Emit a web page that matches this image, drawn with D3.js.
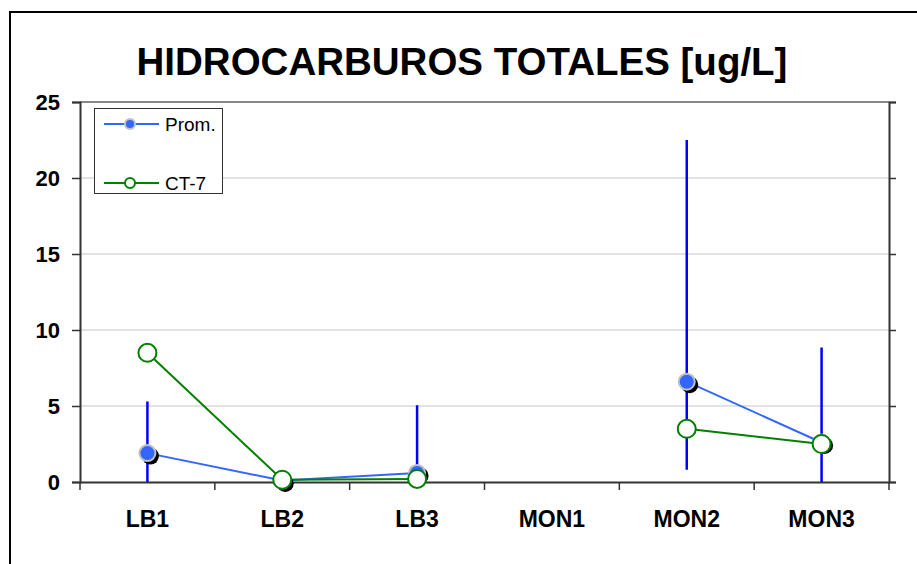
<!DOCTYPE html>
<html>
<head>
<meta charset="utf-8">
<script src="https://cdn.jsdelivr.net/npm/d3@7"></script>
<style>
  body { margin: 0; background: #fff; }
  text { font-family: Arial, "Liberation Sans", sans-serif; }
</style>
</head>
<body>
<div id="chart-container"></div>
<script>
const svgWidth = 917,
    svgHeight = 564,
    margin = { top: 102, right: 28, bottom: 82, left: 80 },
    width = svgWidth - margin.left - margin.right,
    height = svgHeight - margin.top - margin.bottom;

// data
const categories = ["LB1", "LB2", "LB3", "MON1", "MON2", "MON3"];
const promValues = [1.9, 0.1, 0.6, null, 6.6, 2.6];
const promLow = [0, 0, 0, null, 0.8, 0];
const promHigh = [5.3, 0.1, 5.05, null, 22.5, 8.85];
const ct7Values = [8.5, 0.15, 0.2, null, 3.5, 2.5];
const yTicks = [0, 5, 10, 15, 20, 25];

var root = d3.select("#chart-container").append("svg")
    .attr("width", svgWidth)
    .attr("height", svgHeight);

// outer frame
root.append("rect")
    .attr("x", 10).attr("y", 12)
    .attr("width", 920).attr("height", 570)
    .attr("fill", "none")
    .attr("stroke", "#000")
    .attr("stroke-width", 2);

root.append("text")
    .attr("x", 462)
    .attr("y", 75)
    .attr("text-anchor", "middle")
    .attr("font-size", 38.5)
    .attr("font-weight", "bold")
    .text("HIDROCARBUROS TOTALES [ug/L]");

var svg = root.append("g")
    .attr("transform", "translate(" + margin.left + "," + margin.top + ")");

let xScale = d3.scaleBand()
        .domain(categories)
        .range([0, width]),
    yScale = d3.scaleLinear()
        .domain([0, 25])
        .range([height, 0]);

const cx = (i) => xScale(categories[i]) + xScale.bandwidth() / 2;

// gridlines
svg.selectAll("line.grid")
    .data(yTicks.filter((d) => d > 0 && d < 25))
    .join("line")
    .attr("class", "grid")
    .attr("x1", 0).attr("x2", width)
    .attr("y1", (d) => yScale(d)).attr("y2", (d) => yScale(d))
    .attr("stroke", "#d9d9d9")
    .attr("stroke-width", 1.5);

// plot frame top
svg.append("line")
    .attr("x1", 0).attr("x2", width)
    .attr("y1", 0).attr("y2", 0)
    .attr("stroke", "#888").attr("stroke-width", 2);

// left axis
let yAxis = svg.append("g")
    .call(d3.axisLeft(yScale).tickValues(yTicks).tickSize(8).tickPadding(12));
yAxis.selectAll("text")
    .attr("font-size", 22).attr("font-weight", "bold").attr("fill", "#000");

// right axis
let yAxisR = svg.append("g")
    .attr("transform", "translate(" + width + ",0)")
    .call(d3.axisRight(yScale).tickValues(yTicks).tickSize(7).tickFormat(""));

// bottom axis
let xAxis = svg.append("g")
    .attr("transform", "translate(0," + height + ")")
    .call(d3.axisBottom(xScale).tickSize(0).tickPadding(29));
xAxis.selectAll("text")
    .attr("font-size", 23).attr("font-weight", "bold").attr("fill", "#000");
xAxis.selectAll("line.edge")
    .data(d3.range(categories.length + 1))
    .join("line")
    .attr("class", "edge")
    .attr("x1", (i) => i * xScale.bandwidth())
    .attr("x2", (i) => i * xScale.bandwidth())
    .attr("y1", 0).attr("y2", 8)
    .attr("stroke", "#333").attr("stroke-width", 1.5);

[yAxis, yAxisR, xAxis].forEach((a) => {
    a.select(".domain").attr("stroke", "#333").attr("stroke-width", 2);
    a.selectAll(".tick line").attr("stroke", "#333").attr("stroke-width", 1.5);
});

// error bars
svg.selectAll("line.err")
    .data(categories.map((c, i) => i).filter((i) => promValues[i] != null))
    .join("line")
    .attr("class", "err")
    .attr("x1", cx).attr("x2", cx)
    .attr("y1", (i) => yScale(promLow[i]))
    .attr("y2", (i) => yScale(promHigh[i]))
    .attr("stroke", "#0000ff")
    .attr("stroke-width", 2.5);

let line = d3.line()
    .defined((d) => d.v != null)
    .x((d) => cx(d.i))
    .y((d) => yScale(d.v));

const promPts = promValues.map((v, i) => ({ i: i, v: v }));
const ctPts = ct7Values.map((v, i) => ({ i: i, v: v }));

svg.append("path")
    .datum(promPts)
    .attr("d", line)
    .attr("fill", "none")
    .attr("stroke", "#3366ff")
    .attr("stroke-width", 2);

svg.append("path")
    .datum(ctPts)
    .attr("d", line)
    .attr("fill", "none")
    .attr("stroke", "#008000")
    .attr("stroke-width", 2);

// Prom markers with shadow
let promDef = promPts.filter((d) => d.v != null);
svg.selectAll("circle.shadow")
    .data(promDef)
    .join("circle")
    .attr("class", "shadow")
    .attr("cx", (d) => cx(d.i) + 3)
    .attr("cy", (d) => yScale(d.v) + 3)
    .attr("r", 8.5)
    .attr("fill", "#000");
svg.selectAll("circle.prom")
    .data(promDef)
    .join("circle")
    .attr("class", "prom")
    .attr("cx", (d) => cx(d.i))
    .attr("cy", (d) => yScale(d.v))
    .attr("r", 8)
    .attr("fill", "#3366ff")
    .attr("stroke", "#c0c0c0")
    .attr("stroke-width", 2);

svg.selectAll("circle.ct")
    .data(ctPts.filter((d) => d.v != null))
    .join("circle")
    .attr("class", "ct")
    .attr("cx", (d) => cx(d.i))
    .attr("cy", (d) => yScale(d.v))
    .attr("r", 9)
    .attr("fill", "#fff")
    .attr("stroke", "#008000")
    .attr("stroke-width", 2);

// legend
let legend = root.append("g");
legend.append("rect")
    .attr("x", 94.5).attr("y", 108.5)
    .attr("width", 128).attr("height", 85)
    .attr("fill", "#fff")
    .attr("stroke", "#333")
    .attr("stroke-width", 1);

const legendItems = [
    { name: "Prom.", y: 124, color: "#3366ff", fill: "#3366ff", stroke: "#c0c0c0" },
    { name: "CT-7", y: 183, color: "#008000", fill: "#fff", stroke: "#008000" }
];
legendItems.forEach((d) => {
    legend.append("line")
        .attr("x1", 104).attr("x2", 159)
        .attr("y1", d.y).attr("y2", d.y)
        .attr("stroke", d.color).attr("stroke-width", 2);
    legend.append("circle")
        .attr("cx", 130).attr("cy", d.y).attr("r", 5)
        .attr("fill", d.fill).attr("stroke", d.stroke).attr("stroke-width", 2);
    legend.append("text")
        .attr("x", 165).attr("y", d.y + 7)
        .attr("font-size", 19)
        .text(d.name);
});
</script>
</body>
</html>
